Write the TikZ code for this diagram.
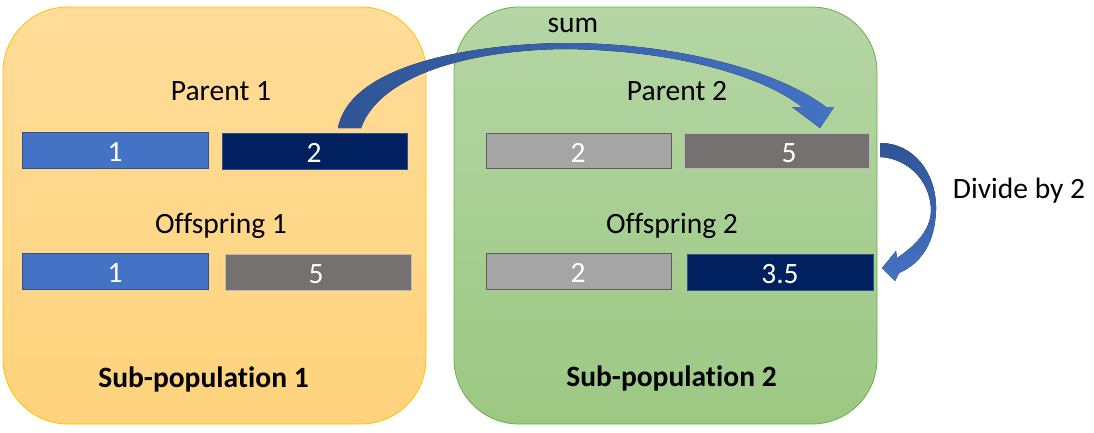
\documentclass[tikz,border=0pt]{standalone}
\usepackage{fontspec}
\setmainfont{Carlito}[RawFeature={-liga;-dlig}]
\usetikzlibrary{calc}
\definecolor{panelAtop}{HTML}{FFDC99}
\definecolor{panelAbot}{HTML}{FFD37C}
\definecolor{panelAline}{HTML}{FFC000}
\definecolor{panelBtop}{HTML}{B5D6A5}
\definecolor{panelBbot}{HTML}{9CC883}
\definecolor{panelBline}{HTML}{70AD47}
\definecolor{cblue}{HTML}{4472C4}
\definecolor{cnavy}{HTML}{002060}
\definecolor{clgray}{HTML}{A5A5A5}
\definecolor{cdgray}{HTML}{767171}
\definecolor{cedge}{HTML}{2F528F}
\definecolor{cgedge}{HTML}{8C8C8C}
\definecolor{arrowdark}{HTML}{2F5597}
\definecolor{arrowlight}{HTML}{4472C4}
\tikzset{
  panel/.style={rounded corners=65pt, line width=0.8pt},
  gene/.style={line width=0.9pt},
  lbl/.style={inner sep=0pt, anchor=base, font=\fontsize{29.5}{35}\selectfont},
  num/.style={inner sep=0pt, anchor=base, text=white, font=\fontsize{29.5}{35}\selectfont},
  title/.style={inner sep=0pt, anchor=base, font=\fontsize{29.5}{35}\selectfont\bfseries},
}
\begin{document}
\begin{tikzpicture}[x=1pt,y=-1pt]
\useasboundingbox (0,0) rectangle (1094,432);
% panels
\draw[panel, draw=panelAline, top color=panelAtop, bottom color=panelAbot] (3,7) rectangle (426,424);
\draw[panel, draw=panelBline, top color=panelBtop, bottom color=panelBbot] (454,7) rectangle (877,424);
% genes sub-population 1
\draw[gene, fill=cblue, draw=cedge] (22,132) rectangle (208,168);
\draw[gene, fill=cnavy, draw=cedge] (222,133) rectangle (407,169);
\draw[gene, fill=cblue, draw=cedge] (22,253) rectangle (208,289);
\draw[gene, fill=cdgray, draw=cgedge!60] (225,254) rectangle (411,290);
% genes sub-population 2
\draw[gene, fill=clgray, draw=cgedge!140] (486,133) rectangle (671,168);
\draw[gene, fill=cdgray, draw=cgedge!60] (684,133) rectangle (869,168);
\draw[gene, fill=clgray, draw=cgedge!140] (486,253) rectangle (671,289);
\draw[gene, fill=cnavy, draw=cedge] (687,254) rectangle (873,290);
% numbers
\node[num] (a1) at (115,161) {1};
\node[num] (a2) at (314,162) {2};
\node[num] (o1) at (115,282) {1};
\node[num] (o2) at (316,283) {5};
\node[num] (b1) at (578,162) {2};
\node[num] (b2) at (789,162) {5};
\node[num] (c1) at (578,282) {2};
\node[num] (c2) at (780,283) {3.5};
% labels
\node[lbl] (p1) at (221,100) {Parent 1};
\node[lbl] (f1) at (221,233) {Offspring 1};
\node[lbl] (p2) at (677,100) {Parent 2};
\node[lbl] (f2) at (672,233) {Offspring 2};
\node[title] (s1) at (203.5,387) {Sub-population 1};
\node[title] (s2) at (671.5,386) {Sub-population 2};
\node[lbl] (sum) at (573,32) {sum};
\node[lbl] (div) at (1019,198) {Divide by 2};
% sum arrow
\fill[left color=arrowdark, right color=arrowlight]
  (338,128) .. controls (350,65) and (470,44) .. (565,43)
  .. controls (680,43) and (780,72) .. (826,107)
  -- (834,107) -- (820,128) -- (792,107) -- (802,107)
  .. controls (760,74) and (670,50) .. (565,49)
  .. controls (470,50) and (380,75) .. (361,128) -- cycle;
% divide arrow
\fill[top color=arrowdark, bottom color=arrowlight]
  (880,143) .. controls (915,143) and (937,175) .. (936,210)
  .. controls (935,242) and (922,263) .. (899,273)
  -- (895,281) -- (882,268) -- (896,251) -- (897,258)
  .. controls (915,246) and (931,230) .. (931,210)
  .. controls (930,178) and (905,158) .. (880,157) -- cycle;
\end{tikzpicture}
\end{document}
